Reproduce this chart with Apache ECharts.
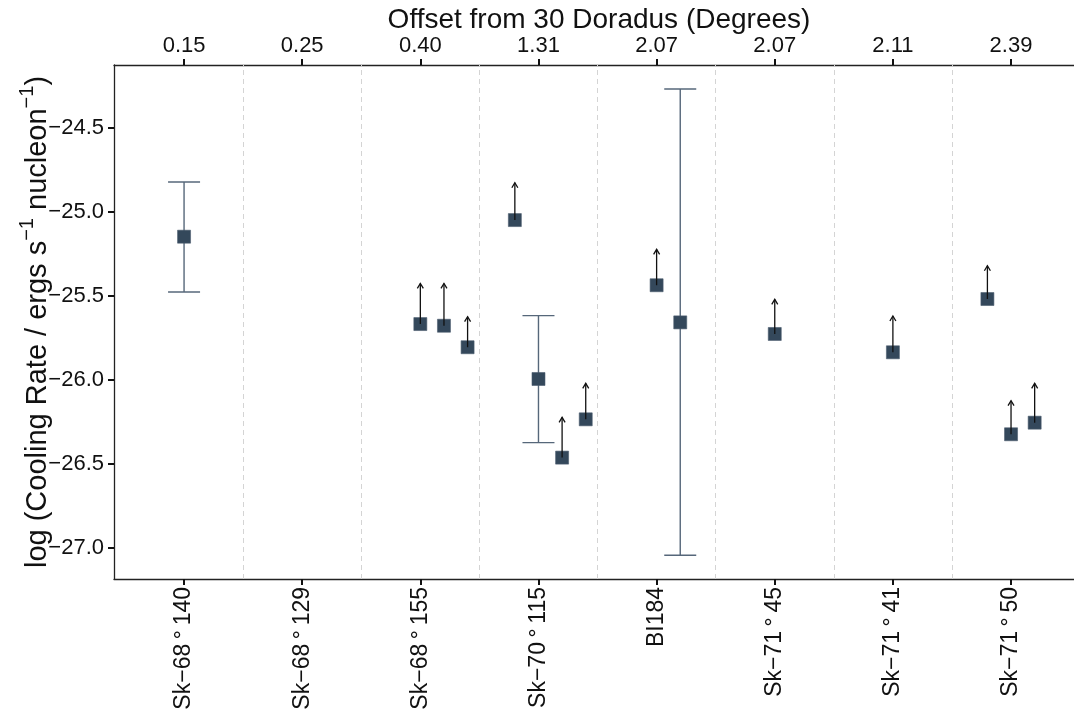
<!DOCTYPE html>
<html><head><meta charset="utf-8">
<script src="https://cdn.jsdelivr.net/npm/echarts@6/dist/echarts.min.js"></script>
<style>html,body{margin:0;padding:0;background:#fff}#c{width:1074px;height:719px}</style>
</head><body><div id="c"></div>
<script>
// categories (bottom axis) and their offsets from 30 Doradus (top axis)
const categories = ['Sk\u221268\u2009\u00b0\u2009140','Sk\u221268\u2009\u00b0\u2009129','Sk\u221268\u2009\u00b0\u2009155','Sk\u221270\u2009\u00b0\u2009115','BI184','Sk\u221271\u2009\u00b0\u200945','Sk\u221271\u2009\u00b0\u200941','Sk\u221271\u2009\u00b0\u200950'];
const offsets = ['0.15','0.25','0.40','1.31','2.07','2.07','2.11','2.39'];
const yTicks = [-27.0,-26.5,-26.0,-25.5,-25.0,-24.5];

// measurements with error bars
const detCat = [0, 3, 4];
const detShift = [0, 0, 0.2];
const detValue = [-25.147, -25.994, -25.657];
const detLow = [-25.476, -26.373, -27.043];
const detHigh = [-24.821, -25.617, -24.268];

// lower limits (arrows)
const limCat = [2, 2, 2, 3, 3, 3, 4, 5, 6, 7, 7, 7];
const limShift = [0, 0.2, 0.4, -0.2, 0.2, 0.4, 0, 0, 0, -0.2, 0, 0.2];
const limValue = [-25.667, -25.677, -25.805, -25.048, -26.462, -26.234, -25.436, -25.726, -25.835, -25.518, -26.323, -26.254];
const limArrowTop = [-25.425, -25.425, -25.623, -24.826, -26.222, -26.020, -25.222, -25.520, -25.619, -25.320, -26.123, -26.020];

const FONT = '"Liberation Sans", Arial, sans-serif';
const catIdx = categories.map((_, i) => i);
const minus = s => String(s).replace('-', '\u2212');

const detData = detCat.map((c, i) => [c + detShift[i], detValue[i], detLow[i], detHigh[i]]);
const limData = limCat.map((c, i) => [c + limShift[i], limValue[i], limArrowTop[i]]);
const markerData = detData.map(d => [d[0], d[1]]).concat(limData.map(d => [d[0], d[1]]));
const sepData = categories.slice(1).map((_, i) => ({ xAxis: i + 0.5 }));

const chart = echarts.init(document.getElementById('c'), null, { renderer: 'canvas' });
const xCommon = {
  type: 'value', min: -0.593, max: 7.533,
  axisLine: { show: true, onZero: false, lineStyle: { color: '#222', width: 1.3 } },
  splitLine: { show: false },
};
chart.setOption({
  animation: false,
  backgroundColor: '#fff',
  textStyle: { fontFamily: FONT },
  grid: { left: 114, right: 0, top: 65, bottom: 140, containLabel: false, outerBoundsMode: 'none' },
  xAxis: [
    Object.assign({}, xCommon, {
      position: 'bottom',
      axisTick: { show: true, length: 6, customValues: catIdx, lineStyle: { color: '#111', width: 2 } },
      axisLabel: { customValues: catIdx, rotate: 90, margin: 8, fontSize: 23, color: '#111', fontFamily: FONT,
        formatter: v => categories[Math.round(v)] }
    }),
    Object.assign({}, xCommon, {
      position: 'top',
      name: 'Offset from 30 Doradus (Degrees)', nameLocation: 'middle', nameGap: 31, nameMoveOverlap: false,
      nameTextStyle: { fontSize: 28, color: '#111', fontFamily: FONT, padding: [0, 0, 0, 10] },
      axisTick: { show: true, length: 6, customValues: catIdx, lineStyle: { color: '#111', width: 2 } },
      axisLabel: { customValues: catIdx, margin: 8, fontSize: 22, color: '#111', fontFamily: FONT,
        formatter: v => offsets[Math.round(v)] }
    })
  ],
  yAxis: {
    type: 'value', min: -27.1845, max: -24.125,
    axisLine: { show: true, onZero: false, lineStyle: { color: '#222', width: 1.3 } },
    axisTick: { show: true, length: 6, customValues: yTicks, lineStyle: { color: '#111', width: 2 } },
    axisLabel: { customValues: yTicks, margin: 10, fontSize: 22, color: '#111', fontFamily: FONT,
      formatter: v => minus(v.toFixed(1)) },
    splitLine: { show: false },
    name: '{a|log (Cooling Rate / ergs s}{s|\u22121}{a| nucleon}{s|\u22121}{a|)}',
    nameLocation: 'middle', nameGap: 62, nameMoveOverlap: false,
    nameTextStyle: {
      fontFamily: FONT, color: '#111',
      rich: {
        a: { fontSize: 29, fontFamily: FONT, color: '#111', lineHeight: 35, verticalAlign: 'bottom' },
        s: { fontSize: 20, fontFamily: FONT, color: '#111', lineHeight: 35, verticalAlign: 'top' }
      }
    }
  },
  series: [
    {
      type: 'scatter', xAxisIndex: 0, data: markerData, symbol: 'rect', symbolSize: 13,
      itemStyle: { color: '#34485b', opacity: 1, borderColor: '#4b5d6e', borderWidth: 0.6 }, z: 3,
      markLine: {
        silent: true, symbol: ['none', 'none'], label: { show: false },
        lineStyle: { type: [5, 4], color: '#d4d4d4', width: 1 },
        data: sepData, animation: false
      }
    },
    {
      type: 'custom', xAxisIndex: 0, data: detData, z: 2,
      renderItem: (params, api) => {
        const x = api.value(0);
        const lo = api.coord([x, api.value(2)]);
        const hi = api.coord([x, api.value(3)]);
        const st = { stroke: '#56677a', lineWidth: 1.4 };
        return { type: 'group', children: [
          { type: 'line', shape: { x1: lo[0], y1: lo[1], x2: hi[0], y2: hi[1] }, style: st },
          { type: 'line', shape: { x1: lo[0] - 16, y1: lo[1], x2: lo[0] + 16, y2: lo[1] }, style: st },
          { type: 'line', shape: { x1: hi[0] - 16, y1: hi[1], x2: hi[0] + 16, y2: hi[1] }, style: st }
        ]};
      }
    },
    {
      type: 'custom', xAxisIndex: 0, data: limData, z: 4,
      renderItem: (params, api) => {
        const x = api.value(0);
        const p = api.coord([x, api.value(1)]);
        const t = api.coord([x, api.value(2)]);
        const st = { stroke: '#111', lineWidth: 1.3, fill: null };
        return { type: 'group', children: [
          { type: 'line', shape: { x1: p[0], y1: p[1], x2: t[0], y2: t[1] }, style: st },
          { type: 'polyline', shape: { points: [[t[0] - 3, t[1] + 5], [t[0], t[1]], [t[0] + 3, t[1] + 5]] }, style: st }
        ]};
      }
    }
  ]
});
</script>
</body></html>
